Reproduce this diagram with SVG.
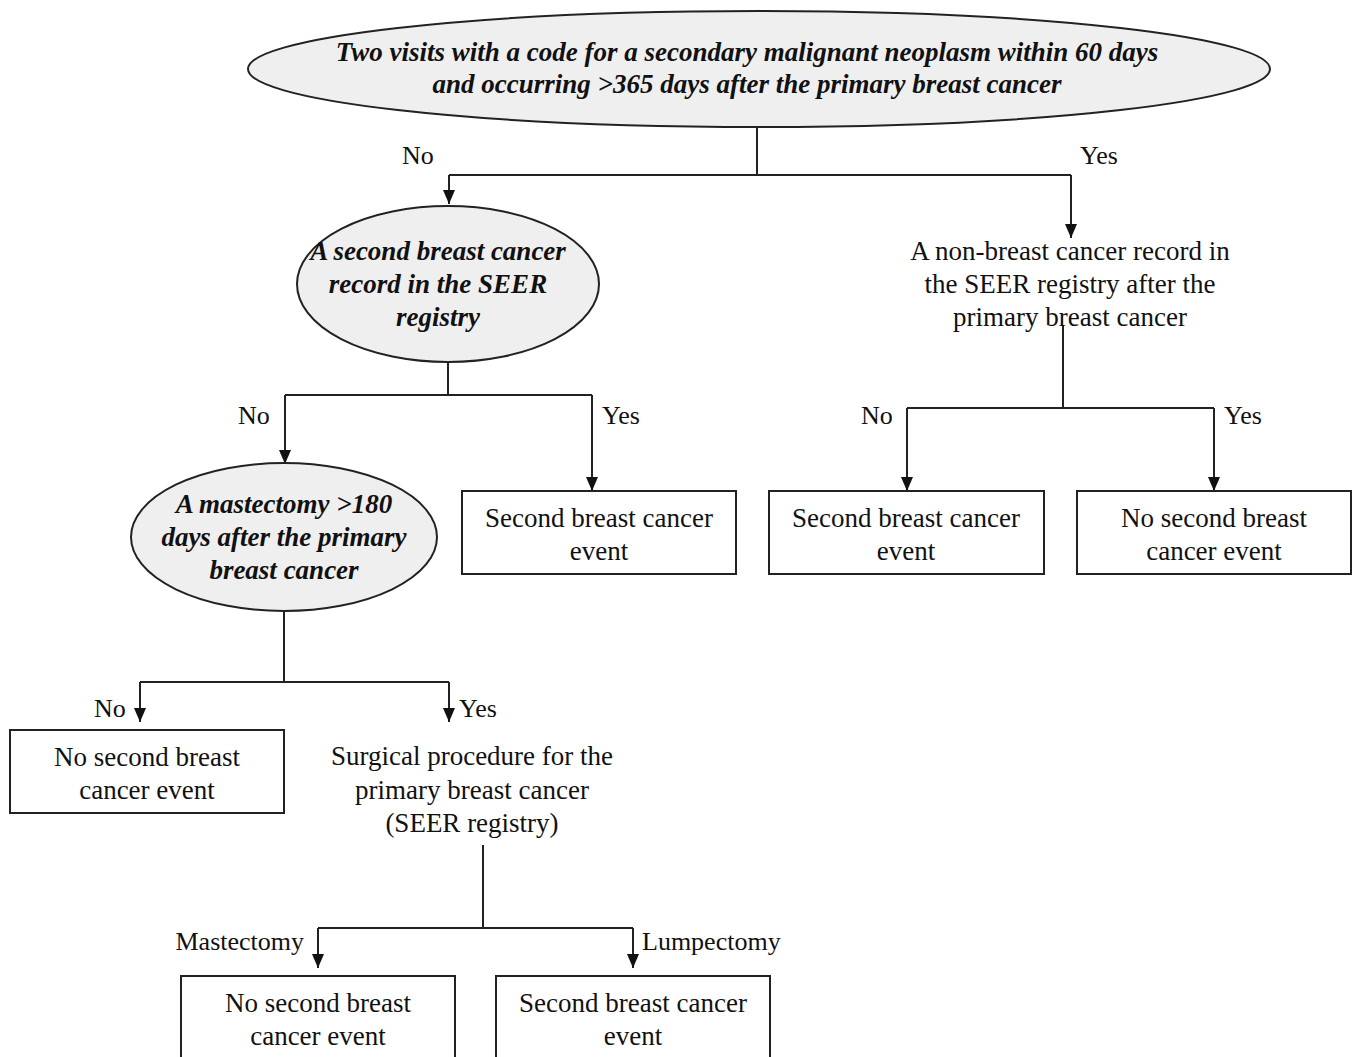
<svg xmlns="http://www.w3.org/2000/svg" width="1355" height="1057" viewBox="0 0 1355 1057">
<defs>
<marker id="arr" markerWidth="16" markerHeight="12" refX="14" refY="6" orient="auto" markerUnits="userSpaceOnUse" viewBox="0 0 16 12">
<path d="M0,0 L14,6 L0,12 Z" fill="#111"/>
</marker>
<style>
.ell{fill:#efefef;stroke:#222;stroke-width:2}
.box{fill:#fff;stroke:#222;stroke-width:2}
.ln{fill:none;stroke:#222;stroke-width:2}
.t{font-family:"Liberation Serif","Times New Roman",serif;font-size:27px;fill:#111;text-anchor:middle}
.bi{font-weight:bold;font-style:italic}
.lbl{font-family:"Liberation Serif","Times New Roman",serif;font-size:26px;fill:#111}
</style>
</defs>
<rect width="1355" height="1057" fill="#fff"/>

<g id="connectors">
<path class="ln" d="M757,128 V175"/>
<path class="ln" d="M449,175 H1071"/>
<path class="ln" d="M449,175 V204" marker-end="url(#arr)"/>
<path class="ln" d="M1071,175 V238" marker-end="url(#arr)"/>
<path class="ln" d="M448,362 V395 M285,395 H592"/>
<path class="ln" d="M285,395 V464" marker-end="url(#arr)"/>
<path class="ln" d="M592,395 V491" marker-end="url(#arr)"/>
<path class="ln" d="M1063,325 V408 M907,408 H1214"/>
<path class="ln" d="M907,408 V491" marker-end="url(#arr)"/>
<path class="ln" d="M1214,408 V491" marker-end="url(#arr)"/>
<path class="ln" d="M284,610 V682 M140,682 H449"/>
<path class="ln" d="M140,682 V722" marker-end="url(#arr)"/>
<path class="ln" d="M449,682 V722" marker-end="url(#arr)"/>
<path class="ln" d="M483,845 V928 M318,928 H633"/>
<path class="ln" d="M318,928 V968" marker-end="url(#arr)"/>
<path class="ln" d="M633,928 V968" marker-end="url(#arr)"/>
<text class="lbl" x="402" y="164">No</text>
<text class="lbl" x="1080" y="164">Yes</text>
<text class="lbl" x="238" y="424">No</text>
<text class="lbl" x="602" y="424">Yes</text>
<text class="lbl" x="861" y="424">No</text>
<text class="lbl" x="1224" y="424">Yes</text>
<text class="lbl" x="94" y="717">No</text>
<text class="lbl" x="459" y="717">Yes</text>
<text class="lbl" x="304" y="950" text-anchor="end">Mastectomy</text>
<text class="lbl" x="642" y="950">Lumpectomy</text>
</g>

<g id="n-top">
<ellipse class="ell" cx="759" cy="69" rx="511" ry="58"/>
<text class="t bi" x="747" y="61">Two visits with a code for a secondary malignant neoplasm within 60 days</text>
<text class="t bi" x="747" y="93">and occurring &gt;365 days after the primary breast cancer</text>
</g>

<g id="n-seer">
<ellipse class="ell" cx="448" cy="284" rx="151" ry="78"/>
<text class="t bi" x="438" y="260">A second breast cancer</text>
<text class="t bi" x="438" y="293">record in the SEER</text>
<text class="t bi" x="438" y="326">registry</text>
</g>

<g id="n-nonbreast">
<text class="t" x="1070" y="260">A non-breast cancer record in</text>
<text class="t" x="1070" y="293">the SEER registry after the</text>
<text class="t" x="1070" y="326">primary breast cancer</text>
</g>

<g id="n-mast">
<ellipse class="ell" cx="284" cy="537" rx="153" ry="74"/>
<text class="t bi" x="284" y="513">A mastectomy &gt;180</text>
<text class="t bi" x="284" y="546">days after the primary</text>
<text class="t bi" x="284" y="579">breast cancer</text>
</g>

<g id="n-yes1">
<rect class="box" x="462" y="491" width="274" height="83"/>
<text class="t" x="599" y="527">Second breast cancer</text>
<text class="t" x="599" y="560">event</text>
</g>

<g id="n-rno">
<rect class="box" x="769" y="491" width="275" height="83"/>
<text class="t" x="906" y="527">Second breast cancer</text>
<text class="t" x="906" y="560">event</text>
</g>

<g id="n-ryes">
<rect class="box" x="1077" y="491" width="274" height="83"/>
<text class="t" x="1214" y="527">No second breast</text>
<text class="t" x="1214" y="560">cancer event</text>
</g>

<g id="n-mno">
<rect class="box" x="10" y="730" width="274" height="83"/>
<text class="t" x="147" y="766">No second breast</text>
<text class="t" x="147" y="799">cancer event</text>
</g>

<g id="n-surg">
<text class="t" x="472" y="765">Surgical procedure for the</text>
<text class="t" x="472" y="799">primary breast cancer</text>
<text class="t" x="472" y="832">(SEER registry)</text>
</g>

<g id="n-mastectomy">
<rect class="box" x="181" y="976" width="274" height="100"/>
<text class="t" x="318" y="1012">No second breast</text>
<text class="t" x="318" y="1045">cancer event</text>
</g>

<g id="n-lumpectomy">
<rect class="box" x="496" y="976" width="274" height="100"/>
<text class="t" x="633" y="1012">Second breast cancer</text>
<text class="t" x="633" y="1045">event</text>
</g>
</svg>
